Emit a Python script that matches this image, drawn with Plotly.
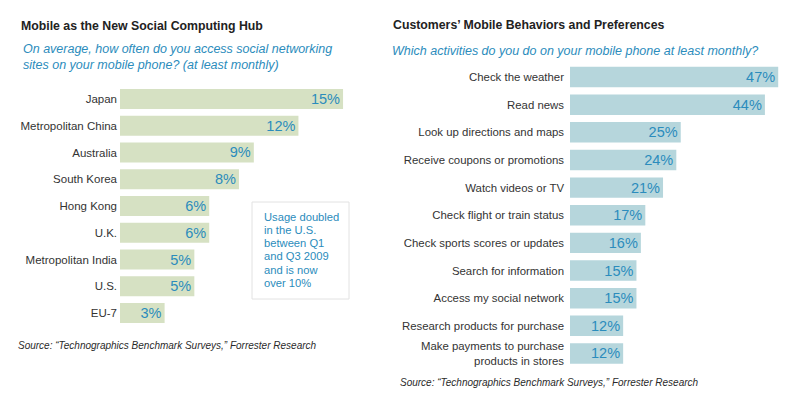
import plotly.graph_objects as go

left_categories = ["Japan", "Metropolitan China", "Australia", "South Korea", "Hong Kong",
                   "U.K.", "Metropolitan India", "U.S.", "EU-7"]
left_values = [15, 12, 9, 8, 6, 6, 5, 5, 3]

right_categories = ["Check the weather", "Read news", "Look up directions and maps",
                    "Receive coupons or promotions", "Watch videos or TV",
                    "Check flight or train status", "Check sports scores or updates",
                    "Search for information", "Access my social network",
                    "Research products for purchase",
                    "Make payments to purchase<br>products in stores"]
right_values = [47, 44, 25, 24, 21, 17, 16, 15, 15, 12, 12]

callout_lines = ["Usage doubled", "in the U.S.", "between Q1", "and Q3 2009", "and is now", "over 10%"]

# page body has an 8px margin; figure is sized to fit inside the window
OFF = 8
W, H = 800 - 2 * OFF, 402 - 2 * OFF
FONT = "Liberation Sans, Arial, sans-serif"
BLUE_TXT = "#2b8cbc"
DARK = "#2a2a2a"

def px(x):
    return (x - OFF) / W

def py(y):
    return 1 - (y - OFF) / H

fig = go.Figure()

fig.add_trace(go.Bar(
    x=left_values, y=left_categories, orientation="h",
    marker=dict(color="#d6e1c3", line=dict(width=0)),
    text=[f"{v}%" for v in left_values], textposition="inside",
    insidetextanchor="end", constraintext="none",
    textfont=dict(family=FONT, size=14.5, color=BLUE_TXT),
    xaxis="x", yaxis="y", hoverinfo="skip", cliponaxis=False,
))

fig.add_trace(go.Bar(
    x=right_values, y=right_categories, orientation="h",
    marker=dict(color="#b6d6dc", line=dict(width=0)),
    text=[f"{v}%" for v in right_values], textposition="inside",
    insidetextanchor="end", constraintext="none",
    textfont=dict(family=FONT, size=14.5, color=BLUE_TXT),
    xaxis="x2", yaxis="y2", hoverinfo="skip", cliponaxis=False,
))

left_scale = 14.87   # px per percent
right_scale = 4.43
fig.update_layout(
    width=W, height=H,
    margin=dict(l=0, r=0, t=0, b=0),
    paper_bgcolor="white", plot_bgcolor="white",
    showlegend=False,
    font=dict(family=FONT, color=DARK),
    bargap=0.26,
    xaxis=dict(domain=[px(120), px(350)], range=[0, 230 / left_scale],
               visible=False, fixedrange=True),
    yaxis=dict(domain=[py(326.4), py(85.6)], autorange="reversed",
               showgrid=False, zeroline=False, showline=False, ticks="",
               tickfont=dict(family=FONT, size=11.5, color="#333333"),
               ticklabelstandoff=2, anchor="x"),
    xaxis2=dict(domain=[px(570), px(784)], range=[0, 214 / right_scale],
                visible=False, fixedrange=True),
    yaxis2=dict(domain=[py(367.3), py(63.2)], autorange="reversed",
                showgrid=False, zeroline=False, showline=False, ticks="",
                tickfont=dict(family=FONT, size=11.4, color="#333333"),
                ticklabelstandoff=5, anchor="x2"),
)

def note(text, x, y, size, color=DARK, bold=False, italic=False, xanchor="left", yanchor="middle", align="left"):
    if bold:
        text = f"<b>{text}</b>"
    if italic:
        text = f"<i>{text}</i>"
    fig.add_annotation(text=text, x=px(x), y=py(y), xref="paper", yref="paper",
                       xanchor=xanchor, yanchor=yanchor, align=align, showarrow=False,
                       font=dict(family=FONT, size=size, color=color))

note("Mobile as the New Social Computing Hub", 19, 26, 12.3, color="#222222", bold=True)
note("On average, how often do you access social networking<br>sites on your mobile phone? (at least monthly)",
     21, 57, 12.5, color=BLUE_TXT, italic=True)
note("Source: “Technographics Benchmark Surveys,” Forrester Research", 16, 345, 10, color=DARK, italic=True)

note("Customers’ Mobile Behaviors and Preferences", 391, 25, 12.3, color="#222222", bold=True)
note("Which activities do you do on your mobile phone at least monthly?", 390, 51, 12.5, color=BLUE_TXT, italic=True)
note("Source: “Technographics Benchmark Surveys,” Forrester Research", 398, 382, 10, color=DARK, italic=True)

# callout box
fig.add_shape(type="rect", xref="paper", yref="paper",
              x0=px(252), x1=px(349), y0=py(299), y1=py(202),
              line=dict(color="#e2e2e2", width=1), fillcolor="white")
for i, line in enumerate(callout_lines):
    note(line, 262, 216.5 + i * 13.3, 11.2, color=BLUE_TXT)

fig.write_html("out.html")
